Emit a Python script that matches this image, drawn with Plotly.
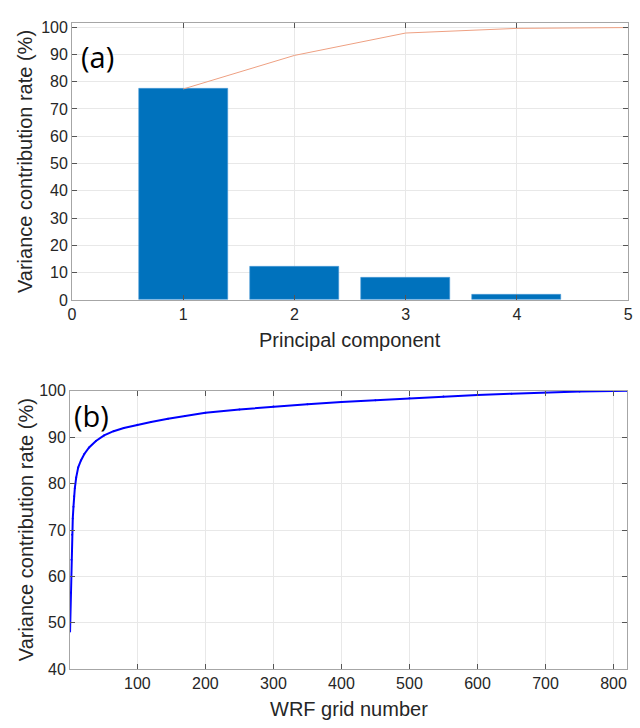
import plotly.graph_objects as go

# Panel (a): variance explained by each principal component
components = [1, 2, 3, 4]
variance_pct = [77.3, 12.3, 8.2, 1.8]
cum_components = [1, 2, 3, 4, 5]
cumulative_pct = [77.3, 89.6, 97.8, 99.5, 99.8]

# Panel (b): cumulative variance contribution across WRF grid points
grid_number = [1, 2, 3, 4, 5, 6, 7, 8, 10, 13, 17, 22, 29, 39, 51, 65, 80,
               100, 120, 145, 170, 200, 250, 300, 350, 400, 450, 500, 550,
               600, 650, 700, 750, 800, 820]
grid_cum_pct = [48.1, 56.5, 63.6, 69.0, 72.5, 75.0, 77.3, 79.0, 81.3, 83.5,
                85.0, 86.4, 87.8, 89.2, 90.4, 91.3, 92.0, 92.7, 93.3, 94.0,
                94.6, 95.3, 96.0, 96.6, 97.1, 97.6, 98.0, 98.4, 98.8, 99.1,
                99.4, 99.65, 99.85, 99.95, 100.0]

W, H = 640, 728
TICK_FONT = dict(family="Liberation Sans, Arial, sans-serif", size=16, color="#262626")
TITLE_FONT = dict(family="Liberation Sans, Arial, sans-serif", size=20, color="#262626")
PANEL_FONT = dict(family="Open Sans, Noto Sans, sans-serif", size=29, color="#000000")
GRID = "#E8E8E8"
FRAME = "#A6A6A6"

fig = go.Figure()

fig.add_trace(go.Bar(
    x=components, y=variance_pct, width=0.8,
    marker=dict(color="#0072BD", line=dict(color="#4A9AD6", width=0.6)),
    xaxis="x", yaxis="y", showlegend=False,
))
fig.add_trace(go.Scatter(
    x=cum_components, y=cumulative_pct, mode="lines",
    line=dict(color="rgb(238,160,130)", width=1),
    xaxis="x", yaxis="y", showlegend=False,
))
fig.add_trace(go.Scatter(
    x=grid_number, y=grid_cum_pct, mode="lines+markers",
    line=dict(color="#0000FF", width=2),
    marker=dict(color="#0000FF", size=2),
    xaxis="x2", yaxis="y2", showlegend=False,
))


def px_x(p):
    return p / W


def px_y(p):
    return 1 - p / H


axis_common = dict(
    showgrid=True, gridcolor=GRID, gridwidth=1,
    showline=True, linecolor=FRAME, linewidth=1, mirror="ticks",
    ticks="inside", ticklen=5, tickcolor="#555555", tickwidth=1,
    tickfont=TICK_FONT, zeroline=False, fixedrange=True,
)

fig.update_layout(
    width=W, height=H,
    margin=dict(l=0, r=0, t=0, b=0),
    paper_bgcolor="white", plot_bgcolor="white",
    bargap=0,
    xaxis=dict(domain=[px_x(69), px_x(633)], range=[0, 5],
               tickvals=[0, 1, 2, 3, 4, 5], anchor="y", **axis_common),
    yaxis=dict(domain=[px_y(299), px_y(15)], range=[0, 101.6],
               tickvals=list(range(0, 101, 10)), anchor="x", **axis_common),
    xaxis2=dict(domain=[px_x(67), px_x(632)], range=[1, 820],
                tickvals=list(range(100, 801, 100)), anchor="y2", **axis_common),
    yaxis2=dict(domain=[px_y(677), px_y(392)], range=[40, 100],
                tickvals=list(range(40, 101, 10)), anchor="x2", **axis_common),
)

annotations = [
    dict(text="Principal component", x=px_x(351), y=px_y(340), font=TITLE_FONT),
    dict(text="WRF grid number", x=px_x(350), y=px_y(718), font=TITLE_FONT),
    dict(text="Variance contribution rate (%)", x=px_x(22), y=px_y(157),
         font=TITLE_FONT, textangle=-90),
    dict(text="Variance contribution rate (%)", x=px_x(22), y=px_y(534),
         font=TITLE_FONT, textangle=-90),
    dict(text="(a)", x=px_x(76), y=px_y(50), xanchor="left", font=PANEL_FONT),
    dict(text="(b)", x=px_x(69), y=px_y(417), xanchor="left", font=PANEL_FONT),
]
for a in annotations:
    a.setdefault("xanchor", "center")
    fig.add_annotation(xref="paper", yref="paper", yanchor="middle",
                       showarrow=False, **a)

fig.write_html("out.html")
